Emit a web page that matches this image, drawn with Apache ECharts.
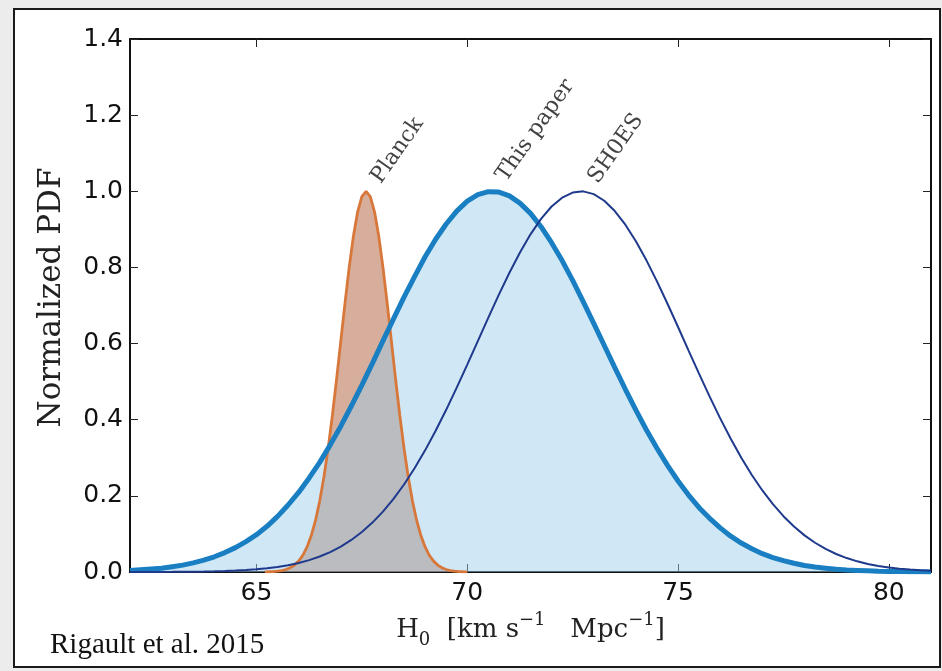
<!DOCTYPE html>
<html>
<head>
<meta charset="utf-8">
<script src="https://cdn.jsdelivr.net/npm/echarts@6/dist/echarts.min.js"></script>
<style>
  html, body { margin: 0; padding: 0; background: #ececec; }
  #chart { width: 942px; height: 671px; }
</style>
</head>
<body>
<div id="chart"></div>
<script>
// H0 grid shared by the two broad posteriors (km/s/Mpc)
const xGrid = [
  62.00, 62.25, 62.50, 62.75, 63.00, 63.25, 63.50, 63.75, 64.00, 64.25,
  64.50, 64.75, 65.00, 65.25, 65.50, 65.75, 66.00, 66.25, 66.50, 66.75,
  67.00, 67.25, 67.50, 67.75, 68.00, 68.25, 68.50, 68.75, 69.00, 69.25,
  69.50, 69.75, 70.00, 70.25, 70.50, 70.75, 71.00, 71.25, 71.50, 71.75,
  72.00, 72.25, 72.50, 72.75, 73.00, 73.25, 73.50, 73.75, 74.00, 74.25,
  74.50, 74.75, 75.00, 75.25, 75.50, 75.75, 76.00, 76.25, 76.50, 76.75,
  77.00, 77.25, 77.50, 77.75, 78.00, 78.25, 78.50, 78.75, 79.00, 79.25,
  79.50, 79.75, 80.00, 80.25, 80.50, 80.75, 81.00
];

// Normalized PDF, this paper
const thisPaper = [
  0.004, 0.006, 0.008, 0.010, 0.014, 0.018, 0.024, 0.031, 0.040, 0.051,
  0.064, 0.080, 0.098, 0.120, 0.146, 0.176, 0.209, 0.247, 0.288, 0.334,
  0.383, 0.436, 0.491, 0.548, 0.607, 0.665, 0.722, 0.776, 0.828, 0.874,
  0.914, 0.948, 0.974, 0.991, 0.999, 0.998, 0.988, 0.969, 0.942, 0.907,
  0.865, 0.818, 0.766, 0.710, 0.653, 0.595, 0.537, 0.480, 0.425, 0.373,
  0.325, 0.280, 0.239, 0.202, 0.169, 0.141, 0.116, 0.094, 0.076, 0.061,
  0.048, 0.038, 0.030, 0.023, 0.017, 0.013, 0.010, 0.007, 0.005, 0.004,
  0.003, 0.002, 0.0015, 0.001, 0.0007, 0.0005, 0.0003
];

// Normalized PDF, SH0ES
const sh0es = [
  0.0001, 0.0001, 0.0002, 0.0003, 0.0004, 0.0006, 0.0009, 0.0013, 0.0018, 0.0026,
  0.0037, 0.0052, 0.0071, 0.0098, 0.0133, 0.0179, 0.0237, 0.0312, 0.0406, 0.0523,
  0.0667, 0.0842, 0.1050, 0.1298, 0.1587, 0.1920, 0.2299, 0.2725, 0.3195, 0.3709,
  0.4260, 0.4842, 0.5447, 0.6064, 0.6681, 0.7284, 0.7860, 0.8393, 0.8869, 0.9275,
  0.9600, 0.9833, 0.9967, 0.9998, 0.9925, 0.9751, 0.9481, 0.9122, 0.8686, 0.8186,
  0.7634, 0.7045, 0.6435, 0.5817, 0.5203, 0.4606, 0.4035, 0.3499, 0.3002, 0.2549,
  0.2142, 0.1781, 0.1466, 0.1194, 0.0962, 0.0768, 0.0606, 0.0473, 0.0366, 0.0280,
  0.0212, 0.0159, 0.0118, 0.0087, 0.0063, 0.0045, 0.0032
];

// Planck grid and normalized PDF
const xPlanck = [
  65.2, 65.3, 65.4, 65.5, 65.6, 65.7, 65.8, 65.9, 66.0, 66.1,
  66.2, 66.3, 66.4, 66.5, 66.6, 66.7, 66.8, 66.9, 67.0, 67.1,
  67.2, 67.3, 67.4, 67.5, 67.6, 67.7, 67.8, 67.9, 68.0, 68.1,
  68.2, 68.3, 68.4, 68.5, 68.6, 68.7, 68.8, 68.9, 69.0, 69.1,
  69.2, 69.3, 69.4, 69.5, 69.6, 69.7, 69.8, 69.9, 70.0
];
const planck = [
  0.0003, 0.0006, 0.0012, 0.0022, 0.0039, 0.0066, 0.0111, 0.0181, 0.0286, 0.0439,
  0.0657, 0.0956, 0.1353, 0.1863, 0.2494, 0.3247, 0.4111, 0.5063, 0.6065, 0.7066,
  0.8007, 0.8825, 0.9460, 0.9862, 1.0000, 0.9862, 0.9460, 0.8825, 0.8007, 0.7066,
  0.6065, 0.5063, 0.4111, 0.3247, 0.2494, 0.1863, 0.1353, 0.0956, 0.0657, 0.0439,
  0.0286, 0.0181, 0.0111, 0.0066, 0.0039, 0.0022, 0.0012, 0.0006, 0.0003
];

// Axis ticks
const xTicks = [65, 70, 75, 80];
const yTicks = [0, 0.2, 0.4, 0.6, 0.8, 1.0, 1.2, 1.4];

// Curve names and where they sit (H0, PDF)
const curveNames = ['Planck', 'This paper', 'SH0ES'];
const curveNameH0 = [68.05, 71.02, 73.2];
const curveNamePdf = [1.01, 1.015, 1.01];

const pairs = (xs, ys) => xs.map((x, i) => [x, ys[i]]);

const blueLine = '#1a7fc2';
const navyLine = '#1f3a8c';
const orangeLine = '#d8773a';

const chart = echarts.init(document.getElementById('chart'), null, { renderer: 'canvas' });

const tickStyle = { show: true, inside: true, length: 8, lineStyle: { color: '#222', width: 1 } };
const frameLine = { show: true, onZero: false, lineStyle: { color: '#111', width: 2 } };

chart.setOption({
  backgroundColor: '#ececec',
  animation: false,
  graphic: [
    {
      type: 'rect', z: -10, silent: true,
      shape: { x: 14, y: 9, width: 926, height: 658 },
      style: { fill: '#ffffff', stroke: '#1a1a1a', lineWidth: 2 }
    },
    {
      type: 'text', z: 10,
      style: {
        x: 50, y: 660, text: 'Rigault et al. 2015',
        font: '29px "Liberation Serif"', fill: '#111',
        textVerticalAlign: 'bottom'
      }
    }
  ],
  grid: { left: 130, top: 39, right: 11, bottom: 99, containLabel: false },
  xAxis: [
    {
      type: 'value', min: 62, max: 81, position: 'bottom',
      axisLine: frameLine,
      axisTick: Object.assign({ customValues: xTicks }, tickStyle),
      axisLabel: {
        customValues: xTicks, margin: 9,
        fontFamily: 'DejaVu Sans', fontSize: 25, color: '#111'
      },
      splitLine: { show: false },
      name: '{t|H}{sub|0}{t|  [km s}{sup|−1}{t|   Mpc}{sup|−1}{t|]}',
      nameLocation: 'middle', nameGap: 20,
      nameTextStyle: {
        rich: {
          t: { fontFamily: 'DejaVu Serif', fontSize: 26, color: '#222', lineHeight: 38, verticalAlign: 'middle' },
          sup: { fontFamily: 'DejaVu Serif', fontSize: 18, color: '#222', lineHeight: 20, verticalAlign: 'top' },
          sub: { fontFamily: 'DejaVu Serif', fontSize: 18, color: '#222', lineHeight: 20, verticalAlign: 'bottom' }
        }
      }
    },
    {
      type: 'value', min: 62, max: 81, position: 'top',
      axisLine: frameLine,
      axisTick: Object.assign({ customValues: xTicks }, tickStyle),
      axisLabel: { show: false },
      splitLine: { show: false }
    }
  ],
  yAxis: [
    {
      type: 'value', min: 0, max: 1.4, position: 'left',
      axisLine: frameLine,
      axisTick: Object.assign({ customValues: yTicks }, tickStyle),
      axisLabel: {
        customValues: yTicks, margin: 7,
        formatter: v => v.toFixed(1),
        fontFamily: 'DejaVu Sans', fontSize: 25, color: '#111'
      },
      splitLine: { show: false },
      name: 'Normalized PDF',
      nameLocation: 'middle', nameGap: 63, nameRotate: 90,
      nameTextStyle: { fontFamily: 'DejaVu Serif', fontSize: 31, color: '#222', padding: [0, 0, 0, 16] }
    },
    {
      type: 'value', min: 0, max: 1.4, position: 'right',
      axisLine: frameLine,
      axisTick: Object.assign({ customValues: yTicks }, tickStyle),
      axisLabel: { show: false },
      splitLine: { show: false }
    }
  ],
  series: [
    {
      name: 'Planck fill', type: 'line', data: pairs(xPlanck, planck),
      showSymbol: false, symbol: 'none', silent: true,
      lineStyle: { width: 0 },
      areaStyle: { color: 'rgba(170,85,45,0.48)', opacity: 1, origin: 'start' }
    },
    {
      name: 'This paper fill', type: 'line', data: pairs(xGrid, thisPaper),
      showSymbol: false, symbol: 'none', silent: true,
      lineStyle: { width: 0 },
      areaStyle: { color: 'rgba(155,203,233,0.47)', opacity: 1, origin: 'start' }
    },
    {
      name: 'Planck', type: 'line', data: pairs(xPlanck, planck),
      showSymbol: false, symbol: 'none',
      lineStyle: { color: orangeLine, width: 2.8 }
    },
    {
      name: 'This paper', type: 'line', data: pairs(xGrid, thisPaper),
      showSymbol: false, symbol: 'none',
      lineStyle: { color: blueLine, width: 5 }
    },
    {
      name: 'SH0ES', type: 'line', data: pairs(xGrid, sh0es),
      showSymbol: false, symbol: 'none',
      lineStyle: { color: navyLine, width: 2 }
    },
    {
      name: 'curve names', type: 'scatter', symbolSize: 0, silent: true,
      data: curveNames.map((n, i) => [curveNameH0[i], curveNamePdf[i], n]),
      label: {
        show: true, position: [0, 0], align: 'left', verticalAlign: 'bottom',
        rotate: 55, formatter: p => p.value[2],
        fontFamily: 'DejaVu Serif', fontSize: 22, color: '#111'
      }
    }
  ]
});
</script>
</body>
</html>
